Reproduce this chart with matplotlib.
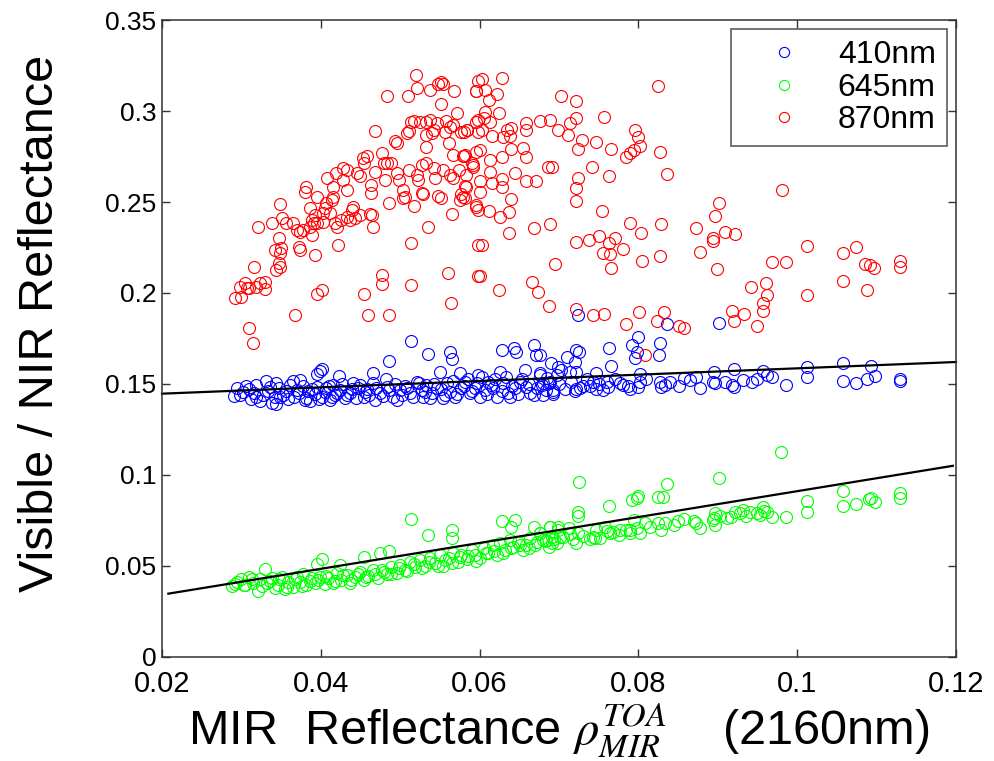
import matplotlib
matplotlib.use("Agg")
import matplotlib.pyplot as plt
import numpy as np

# ---------------- data ----------------
red_x = [0.0520,0.0483,0.0510,0.0521,0.0537,0.0547,0.0552,0.0554,0.0568,0.0552,0.0571,0.0595,0.0598,
 0.0468,0.0493,0.0496,0.0508,0.0511,0.0514,0.0517,0.0525,0.0533,0.0537,0.0533,0.0540,0.0542,0.0546,
 0.0558,0.0563,0.0556,0.0567,0.0562,0.0533,0.0577,0.0584,0.0596,0.0598,0.0566,0.0580,0.0596,
 0.0453,0.0458,0.0454,0.0477,0.0479,0.0484,0.0489,0.0468,0.0428,0.0433,0.0419,0.0408,0.0428,0.0416,0.0433,
 0.0449,0.0445,0.0463,0.0463,0.0481,0.0496,0.0498,0.0511,0.0521,0.0523,0.0528,0.0532,0.0528,
 0.0544,0.0543,0.0554,0.0563,0.0566,0.0574,0.0583,0.0579,0.0591,0.0592,0.0504,0.0504,0.0506,0.0517,0.0529,
 0.0547,0.0552,0.0575,0.0579,0.0581,0.0577,0.0583,0.0595,0.0598,0.0565,0.0486,0.0462,0.0466,0.0535,
 0.0382,0.0380,0.0395,0.0407,0.0416,0.0414,0.0405,0.0403,0.0412,0.0393,0.0389,0.0391,0.0386,0.0349,
 0.0351,0.0356,0.0338,0.0321,0.0365,0.0370,0.0374,0.0378,0.0386,0.0395,0.0403,0.0418,0.0420,0.0426,
 0.0433,0.0439,0.0441,0.0437,0.0449,0.0443,0.0464,0.0389,0.0347,0.0342,0.0350,0.0349,0.0347,0.0349,0.0344,
 0.0372,0.0374,0.0393,0.0422,0.0316,0.0305,0.0307,0.0298,0.0300,0.0292,0.0319,0.0323,0.0330,0.0330,0.0309,
 0.0395,0.0402,0.0367,0.0309,0.0315,0.0454,0.0459,0.0486,0.0477,0.0477,0.0513,0.0513,0.0560,0.0564,0.0598,0.0598,
 0.0603,0.0628,0.0596,0.0607,0.0612,0.0622,0.0702,0.0721,0.0825,0.0624,0.0607,0.0598,0.0605,0.0613,0.0603,
 0.0580,0.0584,0.0615,0.0634,0.0640,0.0630,0.0638,0.0659,0.0659,0.0676,0.0689,0.0699,0.0711,0.0714,0.0721,
 0.0729,0.0724,0.0757,0.0747,0.0766,0.0796,0.0800,0.0802,0.0794,0.0785,0.0790,0.0827,0.0836,0.0742,0.0763,
 0.0601,0.0582,0.0592,0.0613,0.0628,0.0640,0.0655,0.0659,0.0686,0.0691,0.0613,0.0645,0.0628,0.0659,0.0671,
 0.0601,0.0615,0.0628,0.0582,0.0601,0.0640,0.0724,0.0722,0.0722,0.0596,0.0612,0.0626,0.0637,0.0754,
 0.0637,0.0668,0.0689,0.0789,0.0803,0.0828,0.0902,0.0896,0.0873,0.0981,0.0894,0.0909,0.0922,0.0894,
 0.0603,0.0721,0.0738,0.0750,0.0771,0.0763,0.0756,0.0764,0.0780,0.0827,0.0804,0.0766,0.0695,0.0878,0.0899,
 0.0968,0.0986,0.1012,0.1058,0.1074,0.1085,0.1092,0.1097,0.1129,0.1129,0.1058,0.1088,0.1012,0.0961,0.0962,
 0.0957,0.0957,0.0942,0.0918,0.0920,0.0933,0.0949,0.0601,0.0624,0.0666,0.0674,0.0688,0.0722,0.0743,0.0757,
 0.0801,0.0785,0.0823,0.0832,0.0851,0.0857,0.0808]
red_y = [0.3198,0.3084,0.3084,0.3125,0.3115,0.3147,0.3158,0.3147,0.3110,0.3038,0.2991,0.3112,0.3167,
 0.2890,0.2837,0.2826,0.2877,0.2890,0.2941,0.2947,0.2941,0.2941,0.2950,0.2868,0.2877,0.2896,0.2936,
 0.2947,0.2914,0.2886,0.2923,0.2822,0.2800,0.2886,0.2896,0.2941,0.2886,0.2758,0.2753,0.2777,
 0.2744,0.2753,0.2713,0.2767,0.2713,0.2713,0.2713,0.2667,0.2685,0.2676,0.2658,0.2634,0.2621,0.2581,0.2566,
 0.2643,0.2661,0.2593,0.2548,0.2621,0.2661,0.2621,0.2676,0.2648,0.2621,0.2703,0.2713,0.2548,
 0.2630,0.2685,0.2676,0.2648,0.2630,0.2676,0.2648,0.2753,0.2713,0.2694,0.2566,0.2520,0.2529,0.2478,0.2544,
 0.2535,0.2520,0.2511,0.2529,0.2520,0.2544,0.2584,0.2484,0.2456,0.2434,0.2493,0.2434,0.2364,0.2364,
 0.2581,0.2557,0.2529,0.2493,0.2529,0.2511,0.2465,0.2438,0.2438,0.2429,0.2401,0.2383,0.2465,0.2487,
 0.2410,0.2383,0.2383,0.2364,0.2383,0.2346,0.2337,0.2346,0.2364,0.2383,0.2392,0.2383,0.2364,0.2401,
 0.2419,0.2456,0.2474,0.2401,0.2429,0.2410,0.2429,0.2319,0.2300,0.2236,0.2245,0.2218,0.2163,0.2145,0.2126,
 0.2254,0.2236,0.2209,0.2264,0.2141,0.2053,0.2026,0.2035,0.1980,0.1971,0.2035,0.2053,0.2062,0.2021,0.2026,
 0.1995,0.2016,0.1879,0.1806,0.1723,0.1993,0.1879,0.1879,0.2099,0.2048,0.2277,0.2044,0.2108,0.1947,0.2264,0.2093,
 0.3174,0.3180,0.3112,0.3115,0.3060,0.3092,0.3084,0.3057,0.3137,0.2991,0.2996,0.2950,0.2960,0.2941,0.2896,
 0.2886,0.2896,0.2860,0.2896,0.2905,0.2855,0.2863,0.2932,0.2896,0.2945,0.2950,0.2896,0.2868,0.2936,0.2960,
 0.2841,0.2790,0.2969,0.2828,0.2790,0.2896,0.2855,0.2808,0.2786,0.2749,0.2767,0.2773,0.2652,0.2694,0.2645,
 0.2786,0.2758,0.2703,0.2731,0.2749,0.2790,0.2796,0.2749,0.2694,0.2694,0.2667,0.2661,0.2625,0.2615,0.2615,
 0.2615,0.2606,0.2581,0.2588,0.2553,0.2515,0.2630,0.2575,0.2505,0.2474,0.2450,0.2419,0.2443,0.2450,
 0.2331,0.2359,0.2379,0.2383,0.2331,0.2379,0.2493,0.2425,0.2359,0.2566,0.2300,0.2337,0.2324,0.2287,
 0.2264,0.2282,0.2291,0.2315,0.2304,0.2277,0.2218,0.2214,0.2242,0.2205,0.2176,0.2136,0.2158,0.2224,0.2130,
 0.2169,0.2169,0.2258,0.2218,0.2251,0.2158,0.2154,0.2136,0.2178,0.2141,0.2068,0.2016,0.1989,0.2057,0.1989,
 0.1947,0.1901,0.2035,0.1901,0.1848,0.1885,0.1820,0.2095,0.2016,0.2062,0.2007,0.1928,0.1910,0.1879,0.1885,
 0.1894,0.1830,0.1848,0.1894,0.1817,0.1806,0.1659]

blue_x = [0.0513,0.0535,0.0486,0.0563,0.0565,0.0628,0.0643,0.0646,0.0668,0.0671,0.0690,0.0466,0.0482,
 0.0399,0.0402,0.0423,0.0395,
 0.0724,0.0836,0.0902,0.0799,0.0792,0.0798,0.0796,0.0827,0.0826,0.0763,0.0722,0.0725,0.0710,0.0720,0.0766,
 0.0699,0.0703,0.0714,0.0722,0.0747,0.0802,0.0895,0.0920,0.0957,0.0962,0.0968,0.1012,0.1012,0.1058,0.1058,
 0.1074,0.1088,0.1093,0.1098,0.1129,0.1129,0.0986,0.0878,0.0851,0.0873,0.0857,0.0894,0.0896,0.0909,0.0918,
 0.0920,0.0932,0.0943,0.0949,0.0827,0.0829,0.0833,0.0802,0.0800,0.0787,0.0789,0.0777,0.0760,0.0762,0.0756,
 0.0743,0.0739,0.0747,0.0722,0.0720,0.0726,0.0693,0.0684,0.0680,0.0689,0.0676,0.0676,
 0.0291,0.0298,0.0306,0.0309,0.0319,0.0323,0.0316,0.0331,0.0336,0.0344,0.0342,0.0344,0.0349,0.0356,0.0359,
 0.0365,0.0370,0.0374,0.0380,0.0387,0.0384,0.0395,0.0401,0.0407,0.0412,0.0416,0.0418,0.0424,0.0430,0.0437,
 0.0441,0.0447,0.0454,0.0458,0.0466,0.0468,0.0475,0.0483,0.0491,0.0496,0.0500,0.0506,0.0512,0.0521,0.0527,
 0.0529,0.0533,0.0540,0.0546,0.0550,0.0554,0.0559,0.0563,0.0569,0.0575,0.0577,0.0582,0.0588,0.0594,0.0598,
 0.0600,0.0607,0.0611,0.0617,0.0622,0.0626,0.0630,0.0636,0.0638,0.0645,0.0651,0.0657,0.0659,0.0663,0.0672,
 0.0676,0.0680,0.0687,0.0693,0.0697,
 0.0295,0.0302,0.0312,0.0318,0.0327,0.0333,0.0339,0.0347,0.0352,0.0361,0.0366,0.0372,0.0378,0.0382,0.0389,
 0.0393,0.0398,0.0405,0.0410,0.0414,0.0421,0.0427,0.0433,0.0439,0.0444,0.0450,0.0456,0.0461,0.0470,0.0478,
 0.0486,0.0494,0.0502,0.0509,0.0516,0.0524,0.0531,0.0537,0.0543,0.0551,0.0557,0.0566,0.0572,0.0580,0.0586,
 0.0591,0.0597,0.0603,0.0609,0.0614,0.0620,0.0628,0.0633,0.0641,0.0648,0.0654,0.0662,0.0669,0.0678,0.0685,
 0.0692,0.0700,0.0707,0.0715,0.0730,0.0735,0.0750,0.0770,0.0780,0.0810,0.0840,0.0865]
blue_y = [0.1738,0.1665,0.1626,0.1677,0.1637,0.1687,0.1696,0.1677,0.1714,0.1659,0.1614,0.1562,0.1529,
 0.1573,0.1580,0.1544,0.1555,
 0.1879,0.1830,0.1833,0.1757,0.1714,0.1677,0.1641,0.1727,0.1659,0.1700,0.1687,0.1674,0.1646,0.1623,0.1599,
 0.1595,0.1577,0.1568,0.1568,0.1559,0.1555,0.1568,0.1580,0.1573,0.1549,0.1540,0.1595,0.1537,0.1614,0.1518,
 0.1504,0.1526,0.1599,0.1544,0.1526,0.1516,0.1495,0.1476,0.1489,0.1537,0.1531,0.1513,0.1504,0.1513,0.1495,
 0.1482,0.1522,0.1513,0.1526,0.1513,0.1485,0.1495,0.1513,0.1482,0.1489,0.1471,0.1507,0.1513,0.1485,0.1467,
 0.1513,0.1489,0.1471,0.1471,0.1463,0.1476,0.1467,0.1467,0.1504,0.1513,0.1659,0.1549,
 0.1436,0.1440,0.1489,0.1471,0.1430,0.1407,0.1452,0.1516,0.1482,0.1507,0.1430,0.1388,0.1427,0.1463,0.1416,
 0.1516,0.1467,0.1522,0.1412,0.1408,0.1463,0.1485,0.1430,0.1476,0.1412,0.1495,0.1440,0.1467,0.1421,0.1449,
 0.1504,0.1476,0.1430,0.1471,0.1507,0.1412,0.1452,0.1482,0.1430,0.1412,0.1467,0.1489,0.1449,0.1513,0.1467,
 0.1430,0.1495,0.1449,0.1476,0.1568,0.1421,0.1504,0.1458,0.1430,0.1559,0.1476,0.1513,0.1449,0.1476,0.1549,
 0.1430,0.1467,0.1513,0.1476,0.1430,0.1568,0.1504,0.1449,0.1430,0.1476,0.1513,0.1577,0.1482,0.1449,0.1476,
 0.1559,0.1440,0.1504,0.1458,0.1549,
 0.1478,0.1455,0.1418,0.1492,0.1440,0.1463,0.1398,0.1478,0.1440,0.1495,0.1430,0.1452,0.1490,0.1425,0.1470,
 0.1445,0.1420,0.1458,0.1490,0.1430,0.1452,0.1500,0.1438,0.1470,0.1425,0.1495,0.1455,0.1440,0.1480,0.1432,
 0.1465,0.1498,0.1440,0.1478,0.1430,0.1505,0.1458,0.1425,0.1500,0.1470,0.1440,0.1515,0.1445,0.1490,0.1525,
 0.1460,0.1505,0.1540,0.1445,0.1495,0.1525,0.1460,0.1540,0.1490,0.1445,0.1528,0.1500,0.1440,0.1495,0.1535,
 0.1445,0.1500,0.1470,0.1510,0.1490,0.1530,0.1500,0.1530,0.1495,0.1525,0.1510,0.1520]

green_x = [0.0513,0.0535,0.0565,0.0565,0.0628,0.0645,0.0640,0.0668,0.0689,0.0330,0.0395,0.0402,0.0454,0.0475,
 0.0486,0.0424,
 0.0980,0.0902,0.0725,0.0836,0.0825,0.0831,0.0792,0.0798,0.0800,0.0763,0.0724,0.0724,0.1058,0.1058,0.1074,
 0.1090,0.1093,0.1098,0.1129,0.1129,0.1012,0.1012,0.0986,0.0968,0.0962,0.0957,0.0949,0.0941,0.0932,0.0922,
 0.0917,0.0911,0.0903,0.0896,0.0896,0.0894,0.0878,0.0873,0.0857,0.0850,0.0833,0.0829,0.0825,0.0808,0.0802,
 0.0798,0.0789,0.0777,0.0764,0.0758,0.0752,0.0743,0.0739,0.0724,0.0722,0.0714,0.0701,0.0691,0.0684,0.0676,
 0.0689,0.0699,0.0712,0.0747,0.0768,0.0785,0.0794,0.0928,0.0953,
 0.0288,0.0294,0.0300,0.0305,0.0309,0.0315,0.0321,0.0323,0.0332,0.0338,0.0342,0.0346,0.0351,0.0355,0.0359,
 0.0365,0.0370,0.0374,0.0378,0.0382,0.0389,0.0393,0.0399,0.0405,0.0409,0.0416,0.0420,0.0426,0.0433,0.0437,
 0.0443,0.0449,0.0454,0.0460,0.0466,0.0472,0.0477,0.0483,0.0489,0.0496,0.0500,0.0506,0.0512,0.0519,0.0525,
 0.0531,0.0538,0.0544,0.0550,0.0554,0.0561,0.0567,0.0573,0.0577,0.0584,0.0590,0.0594,0.0600,0.0605,0.0611,
 0.0617,0.0622,0.0626,0.0632,0.0638,0.0642,0.0649,0.0655,0.0659,0.0663,0.0670,0.0676,0.0680,0.0687,0.0691,
 0.0697,0.0699,
 0.0292,0.0303,0.0313,0.0326,0.0336,0.0348,0.0357,0.0368,0.0376,0.0386,0.0396,0.0407,0.0418,0.0428,0.0438,
 0.0447,0.0457,0.0468,0.0479,0.0488,0.0498,0.0508,0.0517,0.0527,0.0536,0.0547,0.0556,0.0565,0.0575,0.0586,
 0.0596,0.0608,0.0618,0.0629,0.0640,0.0651,0.0662,0.0672,0.0684,0.0694,0.0705,0.0718,0.0730,0.0745,0.0760,
 0.0775,0.0790,0.0815,0.0845,0.0870,0.0895,0.0935,0.0958]
green_y = [0.0758,0.0670,0.0698,0.0652,0.0749,0.0753,0.0716,0.0713,0.0716,0.0482,0.0511,0.0537,0.0551,0.0573,
 0.0584,0.0505,
 0.1128,0.0982,0.0963,0.0951,0.0881,0.0881,0.0863,0.0872,0.0885,0.0831,0.0798,0.0775,0.0912,0.0830,0.0839,
 0.0866,0.0872,0.0853,0.0903,0.0872,0.0857,0.0798,0.0771,0.0771,0.0798,0.0826,0.0790,0.0798,0.0808,0.0798,
 0.0767,0.0762,0.0775,0.0793,0.0725,0.0753,0.0707,0.0738,0.0757,0.0749,0.0734,0.0698,0.0734,0.0734,0.0680,
 0.0707,0.0680,0.0698,0.0680,0.0716,0.0652,0.0661,0.0647,0.0680,0.0625,0.0676,0.0661,0.0625,0.0643,0.0680,
 0.0716,0.0716,0.0711,0.0698,0.0688,0.0698,0.0753,0.0793,0.0780,
 0.0390,0.0414,0.0427,0.0396,0.0441,0.0405,0.0364,0.0427,0.0405,0.0432,0.0377,0.0396,0.0441,0.0372,0.0414,
 0.0386,0.0441,0.0414,0.0456,0.0396,0.0432,0.0408,0.0441,0.0401,0.0432,0.0405,0.0460,0.0423,0.0451,0.0408,
 0.0441,0.0469,0.0423,0.0445,0.0478,0.0432,0.0478,0.0456,0.0496,0.0463,0.0505,0.0478,0.0524,0.0496,0.0533,
 0.0500,0.0542,0.0515,0.0560,0.0500,0.0542,0.0570,0.0524,0.0560,0.0537,0.0588,0.0560,0.0542,0.0597,0.0570,
 0.0615,0.0560,0.0625,0.0588,0.0643,0.0606,0.0634,0.0588,0.0615,0.0652,0.0615,0.0680,0.0643,0.0606,0.0661,
 0.0625,0.0698,
 0.0402,0.0395,0.0430,0.0388,0.0418,0.0428,0.0385,0.0430,0.0392,0.0418,0.0425,0.0445,0.0418,0.0448,0.0425,
 0.0455,0.0440,0.0455,0.0468,0.0455,0.0488,0.0470,0.0512,0.0488,0.0520,0.0500,0.0535,0.0515,0.0548,0.0555,
 0.0525,0.0570,0.0585,0.0570,0.0600,0.0615,0.0598,0.0630,0.0638,0.0650,0.0660,0.0648,0.0665,0.0655,0.0690,
 0.0672,0.0700,0.0712,0.0725,0.0745,0.0765,0.0775,0.0800]

# least-squares fit lines (slope, intercept) and x-extent
fit_blue = (0.174, 0.1412)
fit_blue_range = [0.02, 0.12]
fit_green = (0.711, 0.0200)
fit_green_range = [0.0208, 0.1196]

labels = ["410nm", "645nm", "870nm"]
xticks = [0.02, 0.04, 0.06, 0.08, 0.10, 0.12]
xticklabels = ["0.02", "0.04", "0.06", "0.08", "0.1", "0.12"]
yticks = [0, 0.05, 0.10, 0.15, 0.20, 0.25, 0.30, 0.35]
yticklabels = ["0", "0.05", "0.1", "0.15", "0.2", "0.25", "0.3", "0.35"]

# ---------------- figure ----------------
plt.rcParams['font.family'] = ['Liberation Sans', 'DejaVu Sans']
fig = plt.figure(figsize=(9.95, 7.61), dpi=100)
ax = fig.add_axes([0.1628, 0.1367, 0.7980, 0.8370])

ms = 8.6
mew = 0.8
ax.plot(blue_x, blue_y, 'o', mfc='none', mec='#0000ff', ms=ms, mew=mew, label=labels[0])
ax.plot(green_x, green_y, 'o', mfc='none', mec='#00ff00', ms=ms, mew=mew, label=labels[1])
ax.plot(red_x, red_y, 'o', mfc='none', mec='#ff0000', ms=ms, mew=mew, label=labels[2])

xb = np.array(fit_blue_range)
ax.plot(xb, fit_blue[0] * xb + fit_blue[1], color='black', lw=1.6, clip_on=False)
xg = np.array(fit_green_range)
ax.plot(xg, fit_green[0] * xg + fit_green[1], color='black', lw=1.6)

ax.set_xlim(0.02, 0.12)
ax.set_ylim(0, 0.35)
ax.set_xticks(xticks)
ax.set_xticklabels(xticklabels, fontsize=21)
ax.set_yticks(yticks)
ax.set_yticklabels(yticklabels, fontsize=19)
ax.tick_params(direction='in', length=6, width=1, top=True, right=True, color='#333333')
ax.tick_params(axis='y', pad=4)
ax.tick_params(axis='x', pad=9.5)
for s in ax.spines.values():
    s.set_linewidth(1.1)
    s.set_color('#333333')

ax.set_ylabel("Visible / NIR Reflectance", fontsize=35)
ax.yaxis.set_label_coords(-0.125, 0.523)
ax.set_xlabel(r"MIR  Reflectance $\rho_{MIR}^{TOA}$    (2160nm)", fontsize=35,
              math_fontfamily='stix')
ax.xaxis.set_label_coords(0.5, -0.0705)

leg = ax.legend(loc='upper right', fontsize=23, frameon=True, fancybox=False,
                edgecolor='#333333', markerscale=0.85, handletextpad=0.4,
                borderaxespad=0.28, labelspacing=0.08, borderpad=0.35, handlelength=2.6)
leg.get_frame().set_linewidth(1.2)

fig.savefig("out.png", dpi=100, facecolor='white')
